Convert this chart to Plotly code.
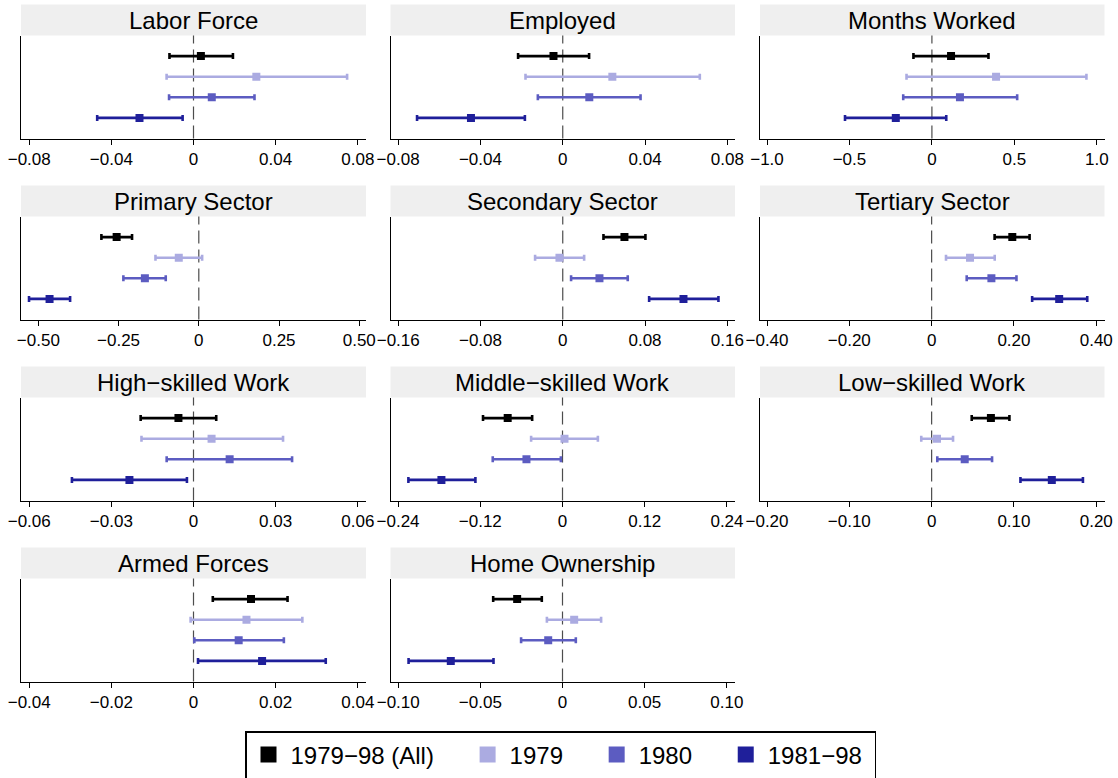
import plotly.graph_objects as go

# ---------------- data ----------------
panels = ["Labor Force", "Employed", "Months Worked",
          "Primary Sector", "Secondary Sector", "Tertiary Sector",
          "High\u2212skilled Work", "Middle\u2212skilled Work", "Low\u2212skilled Work",
          "Armed Forces", "Home Ownership"]

series_names = ["1979\u221298 (All)", "1979", "1980", "1981\u221298"]

est_all = [0.0036, -0.0045, 0.116, -0.256, 0.060, 0.196, -0.0055, -0.080, 0.072, 0.0140, -0.0276]
lo_all = [-0.0117, -0.0217, -0.112, -0.3035, 0.0396, 0.153, -0.0193, -0.116, 0.0487, 0.0047, -0.0422]
hi_all = [0.0192, 0.0128, 0.343, -0.208, 0.0804, 0.238, 0.0083, -0.0443, 0.0945, 0.0229, -0.0126]

est_1979 = [0.0306, 0.0241, 0.389, -0.0624, -0.0032, 0.0933, 0.0066, 0.0029, 0.0065, 0.0129, 0.0071]
lo_1979 = [-0.0131, -0.0181, -0.154, -0.135, -0.0269, 0.0349, -0.0190, -0.0458, -0.0126, -0.0007, -0.0095]
hi_1979 = [0.0748, 0.0666, 0.937, 0.0104, 0.0208, 0.1533, 0.0327, 0.0516, 0.0260, 0.0265, 0.0235]

est_1980 = [0.0089, 0.0129, 0.170, -0.168, 0.0357, 0.1452, 0.0132, -0.0526, 0.0402, 0.0110, -0.0087]
lo_1980 = [-0.0119, -0.0121, -0.174, -0.235, 0.0081, 0.0852, -0.0098, -0.1018, 0.0069, 0.0002, -0.0252]
hi_1980 = [0.0297, 0.0378, 0.517, -0.103, 0.0632, 0.2061, 0.0360, -0.0024, 0.0734, 0.0220, 0.0081]

est_8198 = [-0.0263, -0.0446, -0.219, -0.465, 0.1174, 0.3099, -0.0234, -0.1767, 0.146, 0.0167, -0.068]
lo_8198 = [-0.0469, -0.0708, -0.527, -0.529, 0.084, 0.2442, -0.0444, -0.2249, 0.1079, 0.0011, -0.0937]
hi_8198 = [-0.0053, -0.0184, 0.087, -0.401, 0.1514, 0.3781, -0.0024, -0.1271, 0.1838, 0.0322, -0.042]

tick_vals = [
    [-0.08, -0.04, 0, 0.04, 0.08],
    [-0.08, -0.04, 0, 0.04, 0.08],
    [-1.0, -0.5, 0, 0.5, 1.0],
    [-0.50, -0.25, 0, 0.25, 0.50],
    [-0.16, -0.08, 0, 0.08, 0.16],
    [-0.40, -0.20, 0, 0.20, 0.40],
    [-0.06, -0.03, 0, 0.03, 0.06],
    [-0.24, -0.12, 0, 0.12, 0.24],
    [-0.20, -0.10, 0, 0.10, 0.20],
    [-0.04, -0.02, 0, 0.02, 0.04],
    [-0.10, -0.05, 0, 0.05, 0.10],
]
tick_text = [
    ["\u22120.08", "\u22120.04", "0", "0.04", "0.08"],
    ["\u22120.08", "\u22120.04", "0", "0.04", "0.08"],
    ["\u22121.0", "\u22120.5", "0", "0.5", "1.0"],
    ["\u22120.50", "\u22120.25", "0", "0.25", "0.50"],
    ["\u22120.16", "\u22120.08", "0", "0.08", "0.16"],
    ["\u22120.40", "\u22120.20", "0", "0.20", "0.40"],
    ["\u22120.06", "\u22120.03", "0", "0.03", "0.06"],
    ["\u22120.24", "\u22120.12", "0", "0.12", "0.24"],
    ["\u22120.20", "\u22120.10", "0", "0.10", "0.20"],
    ["\u22120.04", "\u22120.02", "0", "0.02", "0.04"],
    ["\u22120.10", "\u22120.05", "0", "0.05", "0.10"],
]
x_ranges = [
    [-0.084, 0.084], [-0.0837, 0.0837], [-1.0425, 1.0466],
    [-0.554, 0.521], [-0.1675, 0.1675], [-0.417, 0.42],
    [-0.063, 0.063], [-0.251, 0.2517], [-0.2085, 0.21],
    [-0.042, 0.042], [-0.1047, 0.105],
]

ests = [est_all, est_1979, est_1980, est_8198]
los = [lo_all, lo_1979, lo_1980, lo_8198]
his = [hi_all, hi_1979, hi_1980, hi_8198]
y_levels = [4, 3, 2, 1]

# ---------------- style / layout ----------------
colors = ["#000000", "#ABABE1", "#5C5CC1", "#1F1F9A"]
FONT = "Liberation Sans, Arial, Helvetica, sans-serif"
W, H = 1118, 778
col_x = [(21, 366), (390.5, 735), (760, 1104.5)]


def row_box(r):
    bottom = 138.5 + 181 * r
    return bottom - 103, bottom


fig = go.Figure()
layout = {}
shapes = []
annotations = []

for i, name in enumerate(panels):
    r, c = divmod(i, 3)
    n = i + 1
    suf = "" if n == 1 else str(n)
    xa, ya = "x" + suf, "y" + suf
    x0, x1 = col_x[c]
    top, bottom = row_box(r)

    layout["xaxis" + suf] = dict(
        domain=[x0 / W, x1 / W], range=x_ranges[i], anchor=ya,
        tickvals=tick_vals[i], ticktext=tick_text[i],
        showline=True, linecolor="black", linewidth=1,
        ticks="outside", ticklen=5, tickwidth=1, tickcolor="black",
        showgrid=False, zeroline=False, automargin=False,
        tickfont=dict(size=17, color="black", family=FONT),
        fixedrange=True,
    )
    layout["yaxis" + suf] = dict(
        domain=[1 - bottom / H, 1 - top / H], range=[0, 5], anchor=xa,
        showline=True, linecolor="black", linewidth=1,
        showticklabels=False, ticks="", showgrid=False, zeroline=False,
        automargin=False, fixedrange=True,
    )

    # strip header
    shapes.append(dict(type="rect", xref="paper", yref="paper",
                       x0=x0 / W, x1=x1 / W,
                       y0=1 - top / H, y1=1 - (top - 31) / H,
                       fillcolor="#EFEFEF", line=dict(width=0), layer="below"))
    annotations.append(dict(text=name, xref="paper", yref="paper",
                            x=(x0 + x1) / 2 / W, y=1 - (top - 15.5) / H,
                            xanchor="center", yanchor="middle", showarrow=False,
                            font=dict(size=24, color="black", family=FONT)))
    # zero reference line
    shapes.append(dict(type="line", xref=xa, yref=ya + " domain",
                       x0=0, x1=0, y0=0, y1=1,
                       line=dict(color="#4d4d4d", width=1.2, dash="13px,6px"),
                       layer="below"))

    for s in range(4):
        e = ests[s][i]
        fig.add_trace(go.Scatter(
            x=[e], y=[y_levels[s]], xaxis=xa, yaxis=ya, mode="markers",
            marker=dict(symbol="square", size=8, color=colors[s]),
            error_x=dict(type="data", symmetric=False,
                         array=[his[s][i] - e], arrayminus=[e - los[s][i]],
                         color=colors[s], thickness=2.6, width=3),
            showlegend=False, hoverinfo="skip"))

# legend entries
pads = ["\u00a0" * 4, "\u00a0" * 4, "\u00a0" * 4, "\u00a0"]
for s in range(4):
    fig.add_trace(go.Scatter(
        x=[None], y=[None], xaxis="x", yaxis="y", mode="markers",
        marker=dict(symbol="square", size=16, color=colors[s]),
        name=series_names[s] + pads[s], showlegend=True))

fig.update_layout(
    **layout,
    shapes=shapes,
    annotations=annotations,
    width=W, height=H,
    margin=dict(l=0, r=0, t=0, b=0, autoexpand=False),
    plot_bgcolor="white", paper_bgcolor="white",
    font=dict(family=FONT, color="black"),
    showlegend=True,
    legend=dict(orientation="h", x=245 / W, xanchor="left",
                y=1 - 731 / H, yanchor="top",
                bordercolor="black", borderwidth=1.5, bgcolor="white",
                font=dict(size=24, color="black", family=FONT),
                itemwidth=34, tracegroupgap=0),
)

fig.write_html("out.html",
               config={"displayModeBar": False, "staticPlot": True},
               post_script="document.body.style.margin='0';document.body.style.overflow='hidden';")
